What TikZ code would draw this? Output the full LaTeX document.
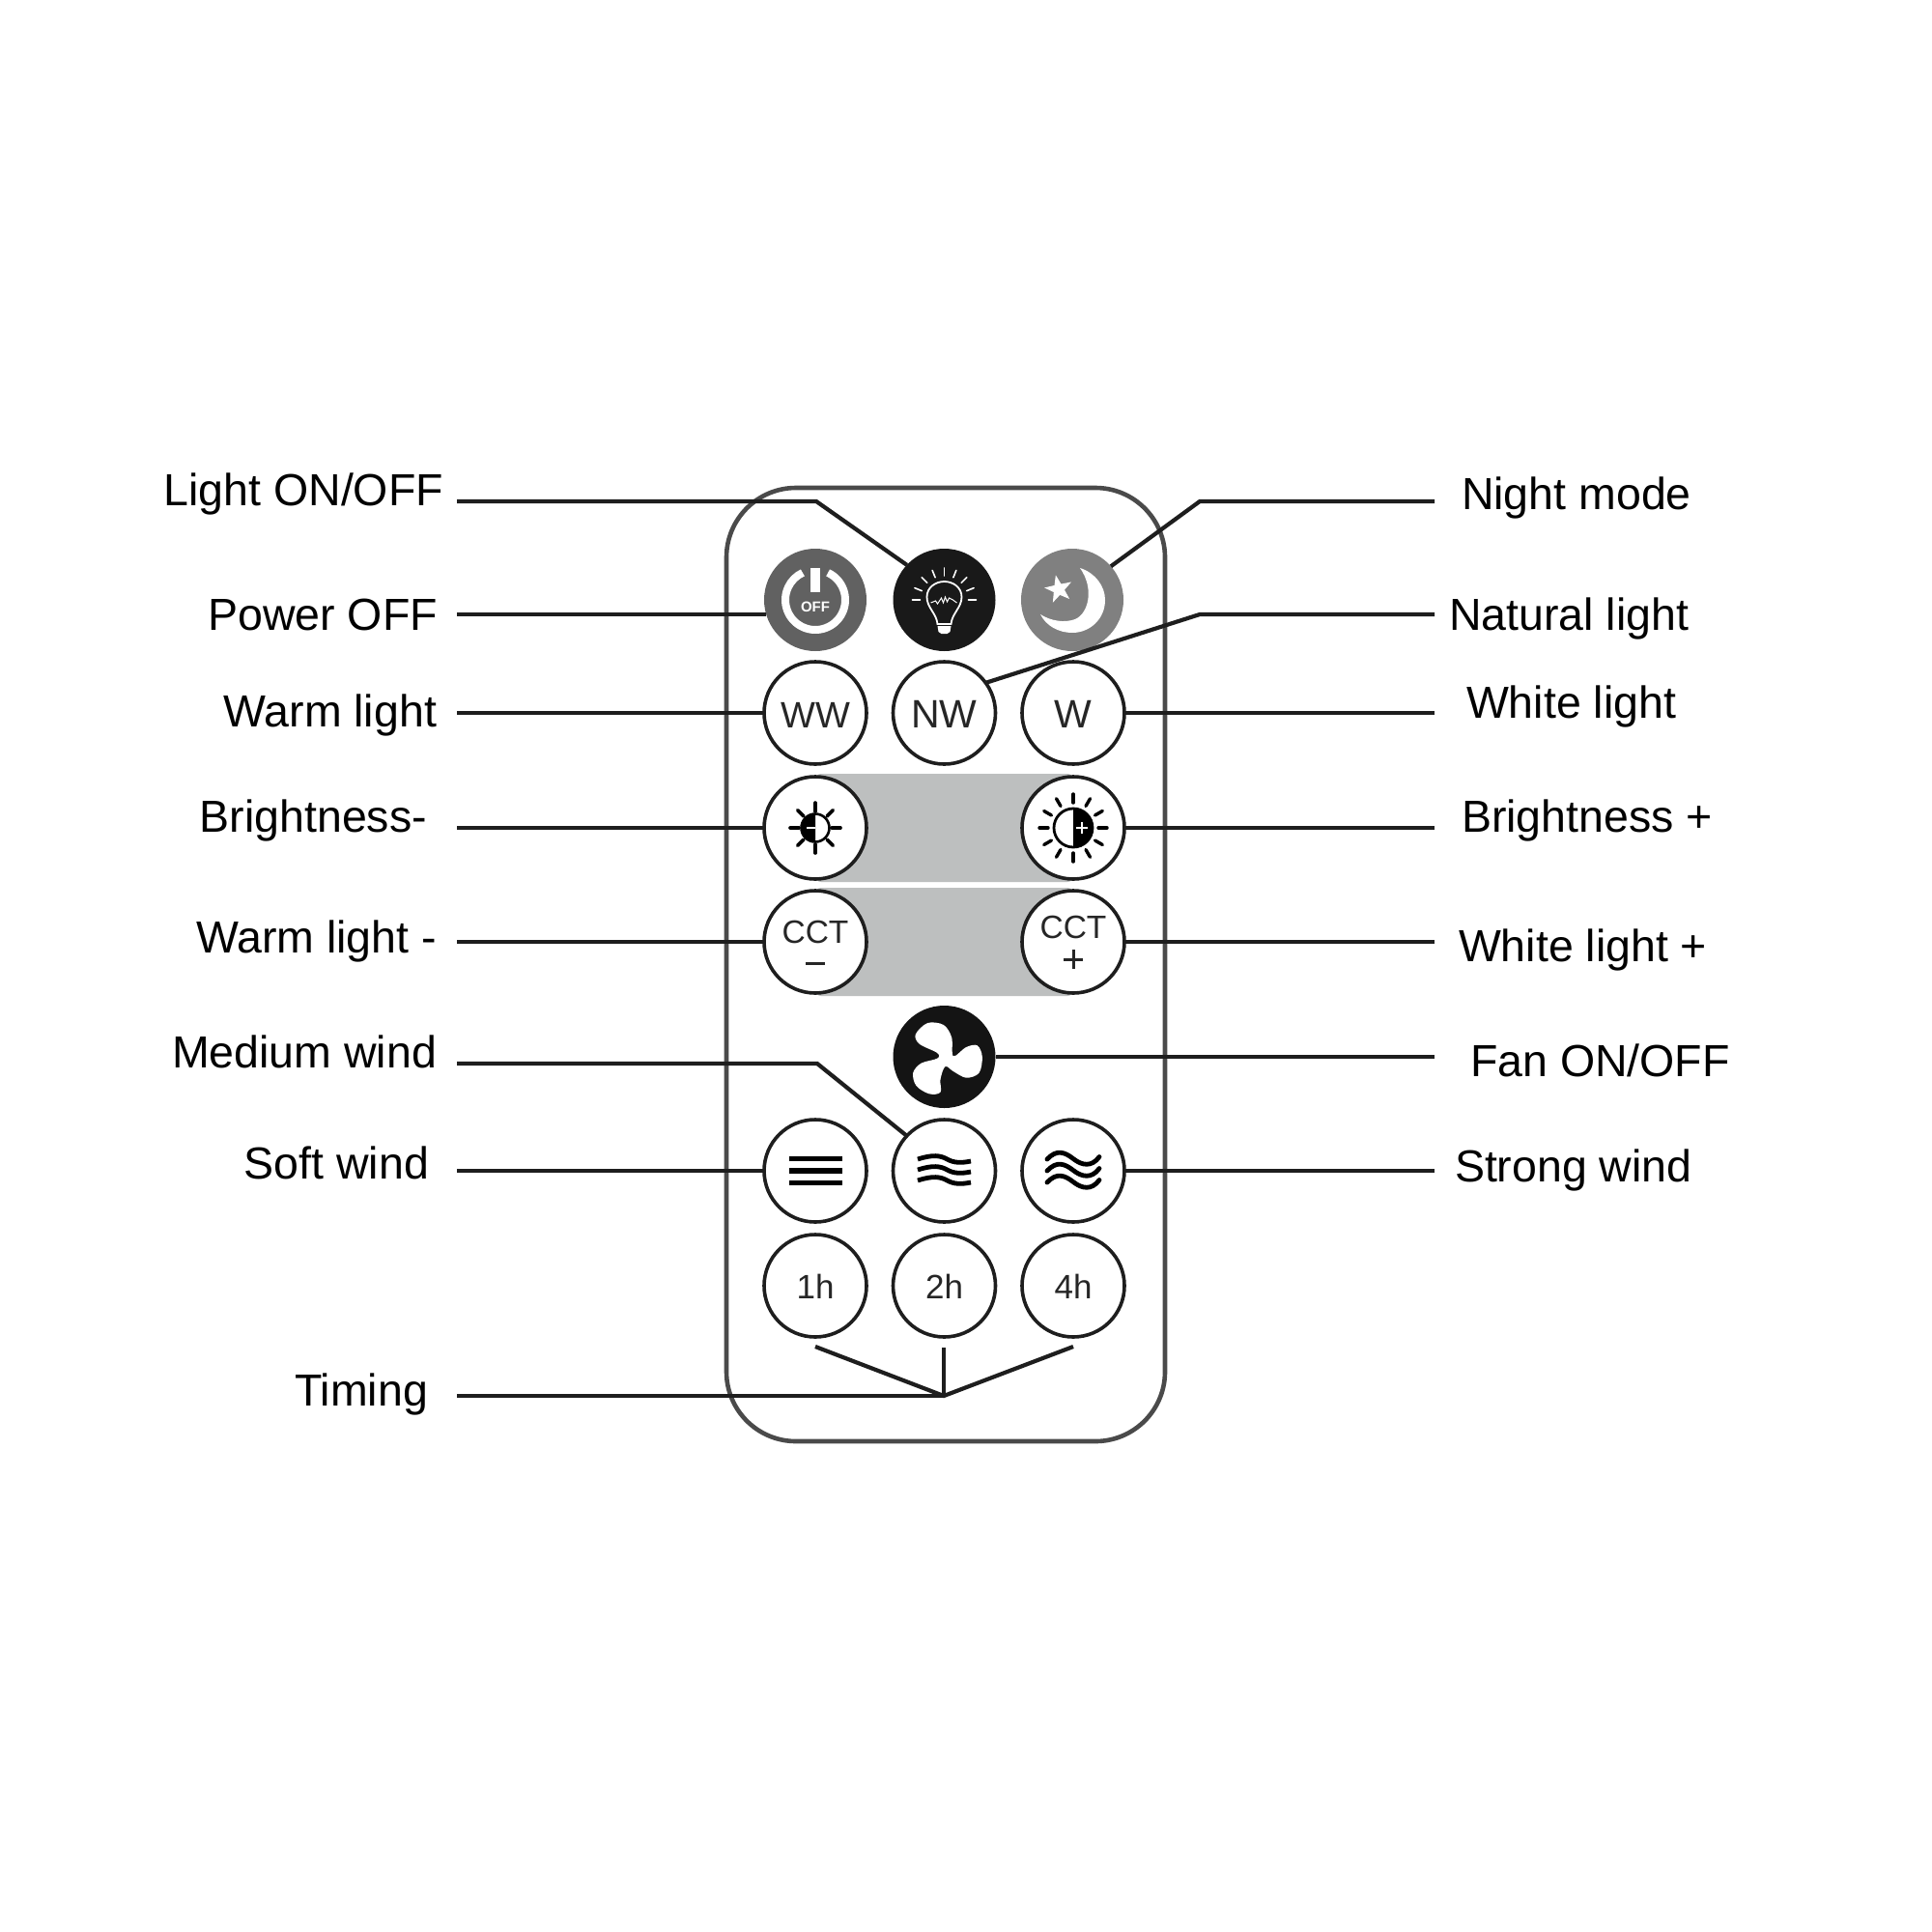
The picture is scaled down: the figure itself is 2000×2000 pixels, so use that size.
\documentclass[tikz,border=0pt]{standalone}
\usepackage{fontspec}
\setmainfont{Liberation Sans}
\begin{document}
\begin{tikzpicture}[x=1pt,y=-1pt,
  btn/.style={circle,draw=ink,line width=3.6pt,fill=white,minimum size=106pt,inner sep=0pt,outer sep=0pt},
  solid btn/.style={circle,fill=#1,minimum size=106pt,inner sep=0pt,outer sep=0pt},
  lab/.style={font=\fontsize{46.5}{50}\selectfont,text=black,inner sep=0pt,outer sep=0pt},
  keytxt/.style={font=\fontsize{#1}{#1}\selectfont,text=keygrey,inner sep=0pt},
  conn/.style={draw=ink,line width=4.2pt,line join=miter},
  wave/.style={draw=black,line width=4.8pt,line cap=butt}]
\definecolor{ink}{HTML}{1E1E1E}
\definecolor{keygrey}{HTML}{262626}
\definecolor{bodyline}{HTML}{4A4A4A}
\definecolor{band}{HTML}{BDBFBF}
\useasboundingbox[fill=white] (0,0) rectangle (2000,2000);

% remote body
\draw[draw=bodyline,line width=4.6pt,rounded corners=72pt,fill=white] (752,505) rectangle (1206,1492);
% grey bands
\fill[band,rounded corners=6pt] (844,801) rectangle (1111,913);
\fill[band,rounded corners=6pt] (844,919) rectangle (1111,1031);

% coordinates for free ends
\coordinate (lA) at (473,519);
\coordinate (lAk) at (845,519);
\coordinate (lB) at (473,636);
\coordinate (lC) at (473,738);
\coordinate (lD) at (473,857);
\coordinate (lE) at (473,975);
\coordinate (lF) at (473,1101);
\coordinate (lFk) at (846,1101);
\coordinate (lG) at (473,1212);
\coordinate (lH) at (473,1445);
\coordinate (tj) at (977,1445);
\coordinate (t1) at (844,1394);
\coordinate (t2) at (977,1395);
\coordinate (t3) at (1111,1394);
\coordinate (rA) at (1485,519);
\coordinate (rAk) at (1242,519);
\coordinate (rB) at (1485,636);
\coordinate (rBk) at (1242,636);
\coordinate (rC) at (1485,738);
\coordinate (rD) at (1485,857);
\coordinate (rE) at (1485,975);
\coordinate (rF) at (1485,1094);
\coordinate (rG) at (1485,1212);

% buttons
\node[solid btn=black!62] (power) at (844,621) {};
\node[solid btn={black!90}] (lamp) at (977.5,621) {};
\node[solid btn=black!50] (moon) at (1110,621) {};
\node[btn] (ww) at (844,738) {};
\node[btn] (nw) at (977.5,738) {};
\node[btn] (w) at (1111,738) {};
\node[btn] (bm) at (844,857) {};
\node[btn] (bp) at (1111,857) {};
\node[btn] (cm) at (844,975) {};
\node[btn] (cp) at (1111,975) {};
\node[solid btn={black!92}] (fan) at (977.5,1094) {};
\node[btn] (soft) at (844,1212) {};
\node[btn] (med) at (977.5,1212) {};
\node[btn] (strong) at (1111,1212) {};
\node[btn] (h1) at (844,1331) {};
\node[btn] (h2) at (977.5,1331) {};
\node[btn] (h4) at (1111,1331) {};

% connectors
\draw[conn] (lA) -- (lAk) -- (lamp.137);
\draw[conn] (lB) -- (lB -| power.197);
\draw[conn] (lC) -- (ww.west);
\draw[conn] (lD) -- (bm.west);
\draw[conn] (lE) -- (cm.west);
\draw[conn] (lF) -- (lFk) -- (med.137);
\draw[conn] (lG) -- (soft.west);
\draw[conn] (lH) -- (tj);
\draw[conn] (t1) -- (tj) -- (t3);
\draw[conn] (t2) -- (tj);
\draw[conn] (rA) -- (rAk) -- (moon.41);
\draw[conn] (rB) -- (rBk) -- (nw.36);
\draw[conn] (rC) -- (w.east);
\draw[conn] (rD) -- (bp.east);
\draw[conn] (rE) -- (cp.east);
\draw[conn] (rF) -- (fan.east);
\draw[conn] (rG) -- (strong.east);

% labels left
\node[lab,anchor=base east] (t-a) at (459,523) {Light ON/OFF};
\node[lab,anchor=base east] (t-b) at (453,652) {Power OFF};
\node[lab,anchor=base east] (t-c) at (452,752) {Warm light};
\node[lab,anchor=base east] (t-d) at (442,861) {Brightness-};
\node[lab,anchor=base east] (t-e) at (452,986) {Warm light -};
\node[lab,anchor=base east] (t-f) at (452,1105) {Medium wind};
\node[lab,anchor=base east] (t-g) at (444,1220) {Soft wind};
\node[lab,anchor=base east] (t-h) at (443,1455) {Timing};
% labels right
\node[lab,anchor=base west] (t-i) at (1513,527) {Night mode};
\node[lab,anchor=base west] (t-j) at (1500,652) {Natural light};
\node[lab,anchor=base west] (t-k) at (1518,743) {White light};
\node[lab,anchor=base west] (t-l) at (1513,861) {Brightness +};
\node[lab,anchor=base west] (t-m) at (1510,995) {White light +};
\node[lab,anchor=base west] (t-n) at (1522,1114) {Fan ON/OFF};
\node[lab,anchor=base west] (t-o) at (1506,1223) {Strong wind};

% key texts
\node[keytxt=38,anchor=base] (k-ww) at (844,753) {WW};
\node[keytxt=41,anchor=base] (k-nw) at (977.5,753) {NW};
\node[keytxt=41,anchor=base] (k-w) at (1111,753) {W};
\node[keytxt=33.5,anchor=base] (k-cm) at (844,976) {CCT};
\node[keytxt=33.5,anchor=base] (k-cp) at (1111,971) {CCT};
\draw[draw=keygrey,line width=3pt] (834,997) -- (854,997);
\draw[draw=keygrey,line width=3pt] (1101,993) -- (1121,993) (1111,983) -- (1111,1003);
\node[keytxt=35,anchor=base] (k-1) at (844,1344) {1h};
\node[keytxt=35,anchor=base] (k-2) at (977.5,1344) {2h};
\node[keytxt=35,anchor=base] (k-4) at (1111,1344) {4h};

% power icon
\begin{scope}[shift={(power.center)}]
  \draw[white,line width=8pt] (-65:31) arc[start angle=-65,end angle=245,radius=31];
  \fill[white] (-5,-33) rectangle (5,-8);
  \node[font=\fontsize{15}{15}\selectfont\bfseries,text=white,inner sep=0pt] (k-off) at (0,7) {OFF};
\end{scope}

% lamp icon
\begin{scope}[shift={(lamp.center)}]
  \foreach \a in {-180,-158,-135,-112,-90,-68,-45,-22,0}
    \draw[white,line width=1.6pt,line cap=round] (\a:25) -- (\a:33);
  \draw[white,line width=1.8pt] (-7,25) .. controls (-8,14) and (-18,8) .. (-18,-3)
    .. controls (-18,-13) and (-9,-19) .. (0,-19)
    .. controls (9,-19) and (18,-13) .. (18,-3)
    .. controls (18,8) and (8,14) .. (7,25) -- cycle;
  \fill[white] (-7,27) -- (7,27) -- (6,33) -- (3,35) -- (-3,35) -- (-6,33) -- cycle;
  \draw[white,line width=1pt] (-14,3) -- (-9,1) -- (-7,4) -- (-3,-2) -- (-1,3) -- (1,-3) -- (3,2) -- (5,-2) -- (9,0) -- (13,3);
\end{scope}

% moon icon
\begin{scope}[shift={(moon.center)}]
  \fill[white] (8,-33) .. controls (24,-28) and (34,-14) .. (34,0)
    .. controls (34,20) and (18,34) .. (0,34)
    .. controls (-14,34) and (-27,27) .. (-33,15)
    .. controls (-22,22) and (-8,24) .. (3,20)
    .. controls (17,14) and (23,-12) .. (8,-33) -- cycle;
  \fill[white,shift={(-14,-11)},rotate=12]
    (-90:15) -- (-54:6) -- (-18:15) -- (18:6) -- (54:15) -- (90:6) -- (126:15) -- (162:6) -- (198:15) -- (234:6) -- cycle;
\end{scope}

% brightness minus
\begin{scope}[shift={(bm.center)}]
  \foreach \a in {0,45,...,315}
    \draw[black,line width=3.6pt,line cap=round] (\a:17) -- (\a:26);
  \draw[black,line width=2.6pt] (0,0) circle[radius=14.5];
  \fill[black] (0,-14.5) arc[start angle=-90,end angle=-270,radius=14.5] -- cycle;
  \fill[white] (-9,-1.3) rectangle (0,1.3);
\end{scope}

% brightness plus
\begin{scope}[shift={(bp.center)}]
  \foreach \a in {0,30,...,330}
    \draw[black,line width=3.4pt,line cap=round] (\a:26) -- (\a:35);
  \draw[black,line width=2.8pt] (0,0) circle[radius=20];
  \fill[black] (0,-20) arc[start angle=-90,end angle=90,radius=20] -- cycle;
  \draw[white,line width=2pt] (3,0) -- (15,0) (9,-6) -- (9,6);
\end{scope}

% fan icon
\begin{scope}[shift={(fan.center)}]
  \fill[white] plot[smooth cycle,tension=.55] coordinates {
    (-7.3,-4) (-25.7,-13.3) (-29.7,-23.3) (-17.3,-35) (-0.7,-33) (7.7,-20) (9.3,-0.7)
    (22.7,-10) (34.3,-11.7) (39.3,0) (36,16.7) (22.7,21.7) (9.3,15) (1,10)
    (-4,23.3) (-4,36.7) (-15.7,38.3) (-29,30) (-32.3,16.7) (-24,6.7) (-7.3,1.7)};
\end{scope}

% soft wind
\begin{scope}[shift={(soft.center)}]
  \foreach \y in {-12.5,0,12.5}
    \fill[black] (-27.5,\y-2.9) rectangle (27.5,\y+2.9);
\end{scope}

% medium wind
\begin{scope}[shift={(med.center)}]
  \foreach \y in {-11,0,11}
    \draw[wave] (-27.5,\y-1) .. controls (-12,\y-6) and (-4,\y-5) .. (3,\y-1)
      .. controls (10,\y+3) and (18,\y+3) .. (27.5,\y+1);
\end{scope}

% strong wind
\begin{scope}[shift={(strong.center)}]
  \foreach \y in {-11.5,0.5,12.5}
    \draw[wave,line cap=round] (-27,\y-0.5) .. controls (-17,\y-11) and (-9,\y-8) .. (0,\y-1)
      .. controls (9,\y+6) and (19,\y+8) .. (27,\y-3);
\end{scope}
\end{tikzpicture}
\end{document}
